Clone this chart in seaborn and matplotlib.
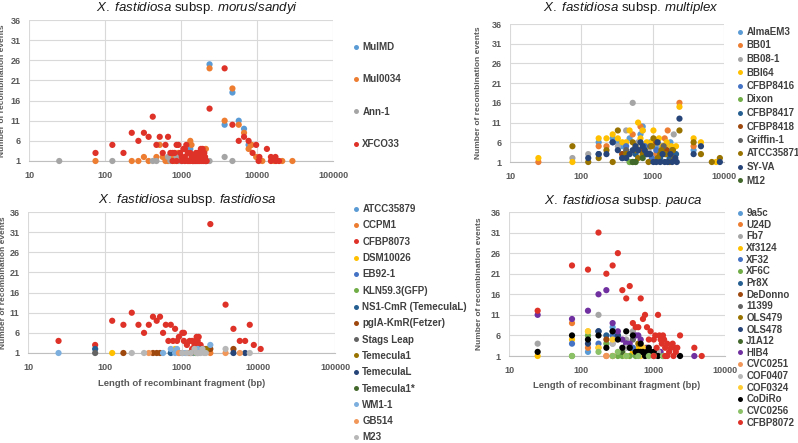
import numpy as np
import pandas as pd
import seaborn as sns
import matplotlib.pyplot as plt
from matplotlib.ticker import FixedLocator, NullLocator

# ---- X. fastidiosa subsp. morus/sandyi
ms_strains = ["MulMD", "Mul0034", "Ann-1", "XFCO33"]
ms_len = [
    [2375, 4750, 3750, 5750, 6750, 7750, 1325, 1025, 1625, 2125],
    [75, 225, 275, 325, 375, 475, 525, 575, 625, 675, 775, 825, 925, 1325, 1375, 2125, 2375,
     3750, 4750, 5750, 6750, 8500, 7750, 8250, 9750, 11750, 16750, 21500, 29250, 1725, 1975],
    [25, 125, 425, 475, 675, 725, 875, 925, 975, 1125, 2375, 3750, 4750],
    [75, 125, 175, 225, 275, 325, 375, 425, 475, 525, 575, 625, 675, 725, 775, 825, 875, 925,
     975, 1025, 1075, 1125, 1175, 1225, 1275, 1325, 1375, 1425, 1475, 1525, 1575, 1625, 1675,
     1725, 1775, 1825, 1875, 1925, 1975, 2025, 2075, 2125, 2175, 775, 875, 1025, 1125, 1225,
     1325, 1425, 1575, 1675, 1775, 1925, 2025, 2075, 1875, 1475, 1125,
     2375, 3750, 4750, 5750, 6750, 7750, 8750, 9750, 10500, 10750, 13500, 15250, 15250,
     17500, 17750, 19500]]
ms_events = [
    [25, 18, 10, 11, 9, 5, 4, 1, 1, 1],
    [1, 1, 1, 2, 1, 2, 5, 2, 1, 1, 2, 1, 3, 6, 5, 4, 24,
     11, 19, 10, 8, 5, 4, 5, 2, 1, 1, 1, 1, 1, 2],
    [1, 1, 1, 1, 2, 1, 2, 1, 1, 1, 1, 2, 1],
    [3, 5, 3, 8, 6, 8, 7, 12, 5, 7, 3, 5, 7, 3, 3, 3, 5, 5,
     3, 2, 4, 2, 5, 3, 1, 3, 2, 1, 2, 1, 3, 2, 3,
     2, 2, 4, 1, 4, 1, 3, 2, 1, 1, 1, 1, 1, 1, 1,
     1, 1, 1, 1, 1, 3, 2, 1, 3, 1, 4,
     14, 24, 10, 6, 7, 6, 3, 5, 1, 2, 4, 2, 1,
     2, 1, 1]]

# ---- X. fastidiosa subsp. multiplex
mp_strains = ["AlmaEM3", "BB01", "BB08-1", "BBI64", "CFBP8416", "Dixon", "CFBP8417",
              "CFBP8418", "Griffin-1", "ATCC35871", "SY-VA", "M12"]
mp_len = [
    [175, 275, 325, 475, 675, 725, 925, 1125, 1375, 1775, 3750, 375],
    [25, 175, 225, 375, 525, 675, 775, 1625, 1475, 2375, 3750, 1125],
    [75, 125, 325, 425, 525, 625, 725, 1325, 1525, 1975, 475, 875],
    [25, 75, 175, 225, 275, 325, 475, 625, 725, 825, 975, 1025, 1225, 1375, 1575, 1825,
     2375, 3750, 4750, 7750, 575, 675, 1125, 425, 375, 875, 1475, 2125],
    [275, 425, 625, 775, 1125, 1475, 975],
    [475, 575, 525],
    [175, 375, 575, 825, 1275, 1725, 2125],
    [375, 675, 1125, 1575],
    [425, 925, 1425, 1875],
    [75, 125, 175, 225, 275, 325, 425, 525, 625, 725, 875, 1025, 1175, 1325, 1525, 1725,
     2025, 2375, 3750, 4750, 6750, 8750, 575, 975, 1275, 1925],
    [125, 175, 225, 275, 325, 375, 425, 475, 525, 575, 675, 725, 775, 875, 925, 1125, 1175,
     1275, 1375, 1475, 1625, 1775, 1875, 2075, 2375, 2175, 3750, 4750, 8750, 1025, 625, 825],
    [525, 575, 725]]
mp_events = [
    [6, 7, 6, 7, 8, 10, 6, 5, 5, 6, 4, 5],
    [1, 5, 5, 3, 8, 10, 5, 9, 7, 16, 5, 3],
    [2, 3, 5, 9, 16, 6, 9, 5, 5, 8, 1, 4],
    [2, 1, 7, 7, 8, 7, 9, 11, 9, 6, 6, 9, 7, 5, 6, 5,
     15, 7, 6, 1, 5, 7, 6, 6, 6, 5, 5, 5],
    [6, 5, 4, 5, 4, 3, 2],
    [1, 1, 1],
    [3, 2, 3, 3, 2, 2, 3],
    [3, 4, 6, 4],
    [4, 5, 5, 4],
    [5, 1, 2, 4, 1, 9, 3, 6, 2, 3, 1, 7, 2, 4, 3, 1,
     2, 9, 6, 3, 1, 2, 4, 5, 3, 4],
    [2, 3, 3, 6, 4, 2, 2, 3, 4, 5, 6, 5, 4, 3, 3, 1, 6,
     1, 3, 1, 1, 3, 1, 2, 12, 1, 3, 5, 1, 1, 4, 3],
    [1, 1, 2]]

# ---- X. fastidiosa subsp. fastidiosa
fa_strains = ["ATCC35879", "CCPM1", "CFBP8073", "DSM10026", "EB92-1", "KLN59.3(GFP)",
              "NS1-CmR (TemeculaL)", "pglA-KmR(Fetzer)", "Stags Leap", "Temecula1",
              "TemeculaL", "Temecula1*", "WM1-1", "GB514", "M23"]
fa_len = [
    [925, 1225, 1425],
    [1275, 2375],
    [25, 75, 125, 175, 225, 275, 325, 375, 425, 475, 525, 575, 625, 675, 725, 775, 825, 875,
     925, 1025, 1075, 1075, 1175, 1275, 1375, 1375, 1475, 1525, 1575, 1625, 1675, 1725, 1775,
     1825, 1925, 2375, 3750, 4750, 5750, 6750, 7750, 8750, 10750, 1475, 1675, 1625, 2025],
    [125, 825],
    [1025],
    [1525],
    [75, 725],
    [175, 425, 475, 525, 1325, 2375, 4750],
    [75, 1725],
    [2125],
    [4750, 6750],
    [1625],
    [25, 575, 725, 825, 875, 1125, 2375, 1625],
    [375, 3750, 5750, 925],
    [225, 325, 1025, 1175, 1325, 1475, 1575, 1775, 1875, 2075, 3750, 7750, 1675, 1975]]
fa_events = [
    [1, 1, 1],
    [1, 1],
    [4, 3, 9, 8, 11, 8, 6, 8, 10, 9, 10, 6, 8, 4, 8, 4, 7, 4,
     5, 6, 6, 4, 3, 4, 4, 2, 3, 4, 5, 4, 3, 2, 3,
     2, 2, 33, 13, 7, 4, 4, 8, 3, 2, 2, 5, 3, 2],
    [1, 2],
    [1],
    [1],
    [2, 1],
    [1, 1, 1, 1, 1, 2, 2],
    [1, 2],
    [2],
    [1, 1],
    [1],
    [1, 1, 2, 1, 2, 1, 3, 2],
    [1, 1, 1, 1],
    [1, 1, 1, 1, 1, 2, 1, 1, 2, 1, 2, 1, 1, 1]]

# ---- X. fastidiosa subsp. pauca
pa_strains = ["9a5c", "U24D", "Fb7", "Xf3124", "XF32", "XF6C", "Pr8X", "DeDonno", "11399",
              "OLS479", "OLS478", "J1A12", "HIB4", "CVC0251", "COF0407", "COF0324",
              "CoDiRo", "CVC0256", "CFBP8072"]
pa_len = [
    [125, 275],
    [75, 125, 225, 275],
    [25, 175, 275, 425, 525],
    [25, 75, 125, 175, 275, 525, 625, 775],
    [75, 175, 275, 325, 525],
    [75, 125, 225, 325, 375, 475, 575, 1375],
    [175, 225, 275, 475],
    [225],
    [525],
    [625],
    [125, 175, 325, 425, 825],
    [375],
    [25, 75, 125, 175, 225, 275, 325, 375, 425, 475, 575, 625, 675, 825, 1275, 3750, 1025],
    [225, 275],
    [275, 425, 1175],
    [125, 175, 275, 425, 675, 725],
    [25, 75, 125, 175, 225, 275, 325, 375, 425, 475, 525, 575, 625, 675, 725, 775, 825, 875,
     925, 1025, 1175, 2375, 675],
    [75, 175, 275, 325, 425, 625, 875, 1025, 1375],
    [25, 75, 125, 225, 275, 325, 175, 375, 425, 475, 525, 575, 625, 675, 725, 775, 825, 925,
     1025, 1075, 1175, 1225, 1275, 1325, 1375, 1425, 1475, 1575, 1675, 1775, 1875, 1975,
     2075, 2175, 2375, 3750, 4750, 1125, 875, 1025, 1575, 1925, 1475]]
pa_events = [
    [2, 8],
    [9, 3, 1, 1],
    [4, 11, 4, 5, 7],
    [1, 5, 7, 3, 5, 2, 3, 3],
    [4, 4, 6, 6, 3],
    [1, 6, 4, 1, 1, 1, 1, 1],
    [7, 6, 7, 3],
    [5],
    [5],
    [4],
    [4, 7, 6, 4, 2],
    [2],
    [11, 10, 12, 16, 17, 9, 7, 5, 4, 4, 6, 6, 5, 3, 2, 1, 1],
    [1, 1],
    [4, 3, 2],
    [7, 3, 5, 1, 1, 3],
    [2, 6, 5, 6, 3, 7, 5, 3, 7, 3, 6, 2, 2, 4, 2, 1, 2, 3,
     2, 2, 1, 1, 2],
    [1, 2, 1, 2, 1, 1, 1, 1, 1],
    [12, 23, 22, 21, 23, 26, 31, 17, 15, 18, 9, 8, 8, 15, 10, 11, 8, 7,
     5, 6, 11, 6, 5, 4, 6, 5, 3, 4, 2, 3, 4, 3,
     2, 3, 6, 3, 1, 3, 5, 1, 1, 1, 1]]

# Excel-like colours
office = ["#5B9BD5", "#ED7D31", "#A5A5A5", "#FFC000", "#4472C4", "#70AD47", "#255E91",
          "#9E480E", "#636363", "#997300", "#264478", "#43682B", "#7CAFDD", "#F1975A",
          "#B7B7B7", "#FFCD33", "#698ED0", "#8CC168"]
red = "#DE3127"
ms_colors = office[:3] + [red]
mp_colors = office[:12]
fa_colors = office[:2] + [red] + office[3:12] + office[12:15]
pa_colors = office[:12] + ["#7030A0", "#F1975A", "#B7B7B7", "#FFCD33", "#000000", "#8CC168", red]

sns.set_theme(style="whitegrid")
plt.rcParams["font.family"] = ["Liberation Sans", "DejaVu Sans"]
plt.rcParams["mathtext.fontset"] = "custom"
plt.rcParams["mathtext.it"] = "Liberation Sans:italic"
plt.rcParams["mathtext.rm"] = "Liberation Sans"

W, H = 798, 443
fig = plt.figure(figsize=(W / 100, H / 100), dpi=100)


def px_axes(l, t, r, b):
    return fig.add_axes([l / W, 1 - b / H, (r - l) / W, (b - t) / H])


def panel(ax, strains, lens, events, colors, xmax, title, title_xy, ylab_x,
          leg_xy, spacing, xlabel_y=None):
    rows = []
    for name, xs, ys in zip(strains, lens, events):
        for x, y in zip(xs, ys):
            rows.append((name, x, y))
    df = pd.DataFrame(rows, columns=["strain", "length", "events"])
    sns.scatterplot(data=df, x="length", y="events", hue="strain", hue_order=strains,
                    palette=colors, s=20, linewidth=0, alpha=1, ax=ax, clip_on=False,
                    zorder=3)
    ax.set_xscale("log")
    ax.set_xlim(10, xmax)
    ax.set_ylim(1, 36)
    decades = [10 ** k for k in range(1, int(np.log10(xmax)) + 1)]
    ax.xaxis.set_major_locator(FixedLocator(decades))
    ax.xaxis.set_minor_locator(NullLocator())
    ax.set_xticklabels([str(d) for d in decades])
    ax.set_yticks(range(1, 37, 5))
    ax.grid(True, color="#D9D9D9", linewidth=0.8)
    for side in ["left", "right", "top"]:
        ax.spines[side].set_visible(False)
    ax.spines["bottom"].set_color("#BFBFBF")
    ax.spines["bottom"].set_linewidth(0.8)
    ax.tick_params(length=0, labelsize=6.5, labelcolor="#595959", pad=6)
    ax.tick_params(axis="x", pad=7)
    for lab in ax.get_xticklabels() + ax.get_yticklabels():
        lab.set_fontweight("bold")
    ax.set_ylabel("Number of recombination events", fontsize=6, fontweight="bold",
                  color="#595959")
    ax.yaxis.set_label_coords(ylab_x, 0.5)
    if xlabel_y is None:
        ax.set_xlabel("")
    else:
        ax.set_xlabel("Length of recombinant fragment (bp)", fontsize=6.8,
                      fontweight="bold", color="#595959")
        ax.xaxis.set_label_coords(0.5, xlabel_y)
    fig.text(title_xy[0] / W, 1 - title_xy[1] / H, title, ha="center", va="center",
             fontsize=9.5, color="#1a1a1a")
    sns.move_legend(ax, "upper left", bbox_to_anchor=(leg_xy[0] / W, 1 - leg_xy[1] / H),
                    bbox_transform=fig.transFigure, title=None, frameon=False,
                    borderpad=0, borderaxespad=0, handlelength=0.5, handletextpad=0.35,
                    labelspacing=spacing, fontsize=7.0, markerscale=0.8)
    for t in ax.get_legend().get_texts():
        t.set_fontweight("bold")
        t.set_color("#404040")


ax1 = px_axes(29, 20, 333, 161)
panel(ax1, ms_strains, ms_len, ms_events, ms_colors, 1e5,
      r"$\it{X.\ fastidiosa}$ subsp. $\it{morus/sandyi}$", (197, 8), -0.076,
      (354, 42), 2.3)

ax2 = px_axes(510, 24, 724, 162)
panel(ax2, mp_strains, mp_len, mp_events, mp_colors, 1e4,
      r"$\it{X.\ fastidiosa}$ subsp. $\it{multiplex}$", (631, 8), -0.131,
      (738, 27), 0.36)

ax3 = px_axes(28, 212, 335, 353)
panel(ax3, fa_strains, fa_len, fa_events, fa_colors, 1e5,
      r"$\it{X.\ fastidiosa}$ subsp. $\it{fastidiosa}$", (187, 200), -0.068,
      (354, 204), 0.65, xlabel_y=-0.184)

ax4 = px_axes(509, 212, 725, 356)
panel(ax4, pa_strains, pa_len, pa_events, pa_colors, 1e4,
      r"$\it{X.\ fastidiosa}$ subsp. $\it{pauca}$", (623, 201), -0.12,
      (738, 208), 0.17, xlabel_y=-0.174)

fig.savefig("out.png", dpi=100)
